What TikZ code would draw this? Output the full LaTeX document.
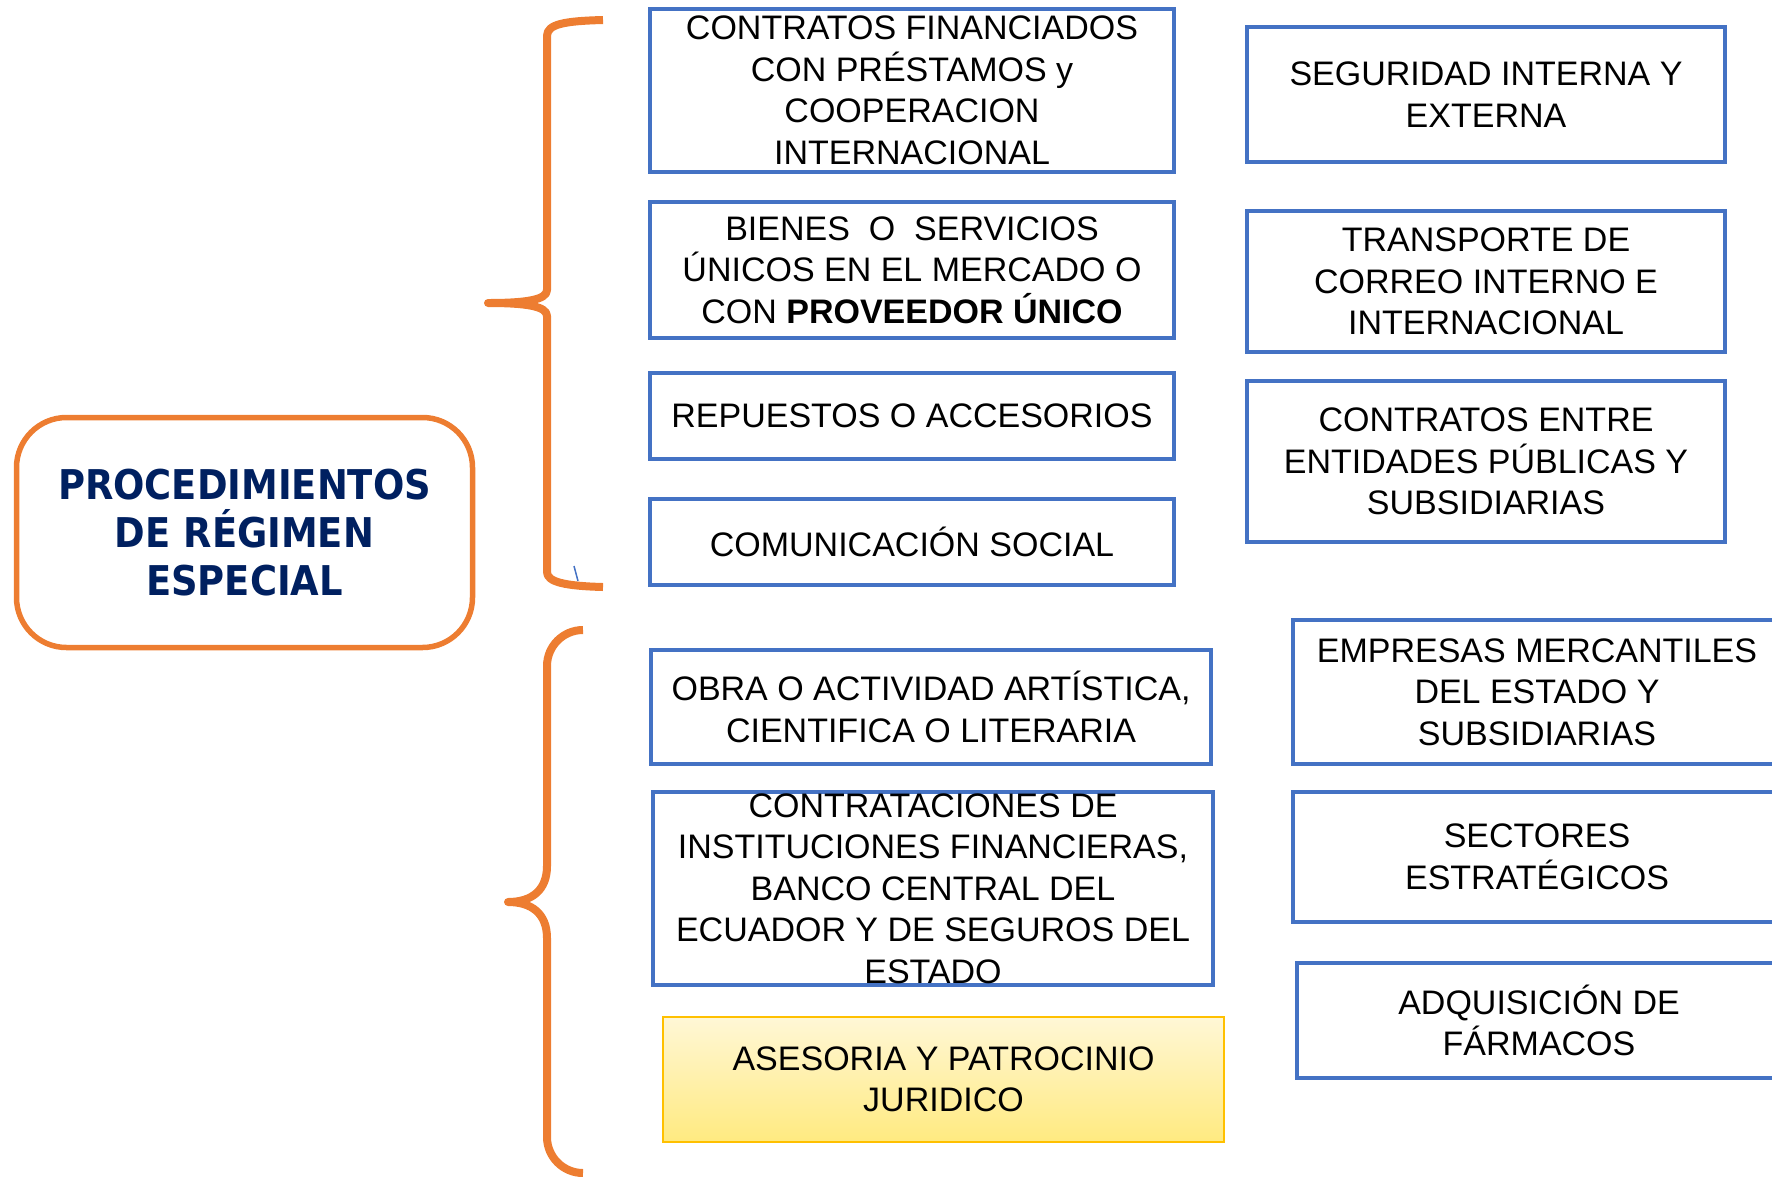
\documentclass[tikz,border=0pt]{standalone}
\usepackage{fontspec}
\setmainfont{Liberation Sans}
\newfontfamily\titlefont{DejaVu Sans Condensed Bold}
\definecolor{boxblue}{HTML}{4472C4}
\definecolor{braceorange}{HTML}{ED7D31}
\definecolor{titlenavy}{HTML}{002060}
\definecolor{ybord}{HTML}{FFC000}
\definecolor{ytop}{HTML}{FFF7D6}
\definecolor{ybot}{HTML}{FFEA80}
\tikzset{
  bluebox/.style={draw=boxblue, line width=4.7pt, rectangle, inner sep=0pt},
  boxtext/.style={align=center, inner sep=0pt, font=\fontsize{34}{41.5}\selectfont},
  bracepath/.style={draw=braceorange, line width=8pt, line join=round},
}
\begin{document}
\begin{tikzpicture}[x=1pt,y=-1pt]
\useasboundingbox (0,0) rectangle (1772,1176);
\clip (0,0) rectangle (1772,1176);

% title box
\node[draw=braceorange, line width=5.5pt, rounded corners=50pt, minimum width=456pt, minimum height=230pt, inner sep=0pt] (title) at (244.5,532.5) {};
\node[align=center, text=titlenavy, inner sep=0pt, font=\titlefont\fontsize{41}{48}\selectfont] at (title.center) {PROCEDIMIENTOS\\DE RÉGIMEN\\ESPECIAL};

% braces
\draw[bracepath] (603,20) .. controls (565,21) and (547,24) .. (547,36)
  -- (547,290) .. controls (547,300) and (525,303) .. (488,303)
  .. controls (525,303) and (547,306) .. (547,316)
  -- (547,572) .. controls (547,582) and (565,586) .. (603,587);
\draw[boxblue, line width=1.5pt] (574,566) -- (578,581);
\draw[bracepath] (583,630) arc[start angle=270, end angle=180, radius=36]
  -- (547,866) .. controls (547,890) and (532,902) .. (508,902)
  .. controls (532,902) and (547,914) .. (547,938)
  -- (547,1137) arc[start angle=180, end angle=90, radius=36];

% column 1, top group
\node[bluebox, minimum width=524pt, minimum height=163pt] (b1) at (912,90.5) {};
\node[boxtext] at (b1.center) {CONTRATOS FINANCIADOS\\CON PRÉSTAMOS y\\COOPERACION\\INTERNACIONAL};
\node[bluebox, minimum width=524pt, minimum height=136pt] (b2) at (912,270) {};
\node[boxtext] at (b2.center) {BIENES\ \ O\ \ SERVICIOS\\ÚNICOS EN EL MERCADO O\\CON \textbf{PROVEEDOR ÚNICO}};
\node[bluebox, minimum width=524pt, minimum height=86pt] (b3) at (912,416) {};
\node[boxtext] at (b3.center) {REPUESTOS O ACCESORIOS};
\node[bluebox, minimum width=524pt, minimum height=86pt] (b4) at (912,542) {};
\node[boxtext] at (b4.center) {COMUNICACIÓN SOCIAL};

% column 1, bottom group
\node[bluebox, minimum width=560pt, minimum height=114pt] (b5) at (931,707) {};
\node[boxtext] at (b5.center) {OBRA O ACTIVIDAD ARTÍSTICA,\\CIENTIFICA O LITERARIA};
\node[bluebox, minimum width=560pt, minimum height=193pt] (b6) at (933,888.5) {};
\node[boxtext] at (b6.center) {CONTRATACIONES DE\\INSTITUCIONES FINANCIERAS,\\BANCO CENTRAL DEL\\ECUADOR Y DE SEGUROS DEL\\ESTADO};
\node[draw=ybord, line width=2pt, top color=ytop, bottom color=ybot, minimum width=561pt, minimum height=125pt, inner sep=0pt] (b7) at (943.5,1079.5) {};
\node[boxtext] at (b7.center) {ASESORIA Y PATROCINIO\\JURIDICO};

% column 2, top group
\node[bluebox, minimum width=478pt, minimum height=135pt] (c1) at (1486,94.5) {};
\node[boxtext] at (c1.center) {SEGURIDAD INTERNA Y\\EXTERNA};
\node[bluebox, minimum width=478pt, minimum height=141pt] (c2) at (1486,281.5) {};
\node[boxtext] at (c2.center) {TRANSPORTE DE\\CORREO INTERNO E\\INTERNACIONAL};
\node[bluebox, minimum width=478pt, minimum height=161pt] (c3) at (1486,461.5) {};
\node[boxtext] at (c3.center) {CONTRATOS ENTRE\\ENTIDADES PÚBLICAS Y\\SUBSIDIARIAS};

% column 2, bottom group
\node[bluebox, minimum width=488pt, minimum height=144pt] (d1) at (1537,692) {};
\node[boxtext] at (d1.center) {EMPRESAS MERCANTILES\\DEL ESTADO Y\\SUBSIDIARIAS};
\node[bluebox, minimum width=488pt, minimum height=130pt] (d2) at (1537,857) {};
\node[boxtext] at (d2.center) {SECTORES\\ESTRATÉGICOS};
\node[bluebox, minimum width=484pt, minimum height=115pt] (d3) at (1539,1020.5) {};
\node[boxtext] at (d3.center) {ADQUISICIÓN DE\\FÁRMACOS};
\end{tikzpicture}
\end{document}
